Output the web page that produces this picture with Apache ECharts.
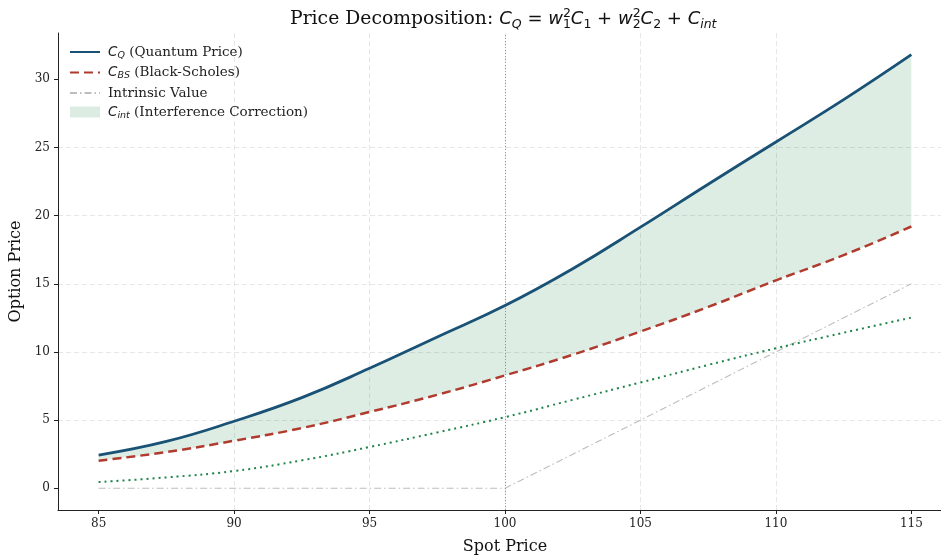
<!DOCTYPE html>
<html>
<head>
<meta charset="utf-8">
<script src="https://cdn.jsdelivr.net/npm/echarts@6/dist/echarts.min.js"></script>
<style>
html,body{margin:0;padding:0;background:#fff;}
#chart{width:941px;height:556px;}
</style>
</head>
<body>
<div id="chart"></div>
<script>
// spot prices and prices
var spot = [85, 87.5, 90, 92.5, 95, 97.5, 100, 102.5, 105, 107.5, 110, 112.5, 115];
var quantumPrice = [2.44, 3.44, 4.92, 6.65, 8.8, 11.1, 13.4, 16.1, 19.15, 22.3, 25.4, 28.5, 31.8];
var bsPrice = [2.03, 2.66, 3.49, 4.42, 5.6, 6.86, 8.28, 9.8, 11.5, 13.3, 15.25, 17.1, 19.2];
var weightedPart = [0.46, 0.8, 1.27, 2.05, 3.03, 4.1, 5.22, 6.49, 7.76, 9.05, 10.27, 11.41, 12.52];
var intrinsic = [0, 0, 0, 0, 0, 0, 0, 2.5, 5, 7.5, 10, 12.5, 15];
var strike = 100;
var xTicks = [85, 90, 95, 100, 105, 110, 115];
var yTicks = [0, 5, 10, 15, 20, 25, 30];

function pairs(ys){
	var out = [];
	for (var i = 0; i < spot.length; i++) out.push([spot[i], ys[i]]);
	return out;
}
// y first so that the stack goes on the price dimension
function pairsYX(ys){
	var out = [];
	for (var i = 0; i < spot.length; i++) out.push([ys[i], spot[i]]);
	return out;
}
var band = [];
for (var i = 0; i < spot.length; i++) band.push(+(quantumPrice[i] - bsPrice[i]).toFixed(3));

var chart = echarts.init(document.getElementById("chart"));

var serif = 'DejaVu Serif';
var math = 'DejaVu Sans';
var lh = 24;
var sm = 0.45;

var titleRich = {
	t: {fontFamily: serif, fontWeight: 'normal', fontSize: 18.8, color: '#111', lineHeight: lh},
	m: {fontFamily: math, fontWeight: 'normal', fontStyle: 'italic', fontSize: 18, color: '#111', lineHeight: lh},
	o: {fontFamily: math, fontWeight: 'normal', fontSize: 18, color: '#111', lineHeight: lh},
	s: {fontFamily: math, fontWeight: 'normal', fontStyle: 'italic', fontSize: 12.5, color: '#111', lineHeight: 13, verticalAlign: 'bottom'},
	sn: {fontFamily: math, fontWeight: 'normal', fontSize: 12.5, color: '#111', lineHeight: 13, verticalAlign: 'bottom'},
	p: {fontFamily: math, fontWeight: 'normal', fontSize: 12.5, color: '#111', lineHeight: 13, verticalAlign: 'top', width: 0}
};

var legendNames = {
	'CQ': '{g| }{m|C}{s|Q}{t| (Quantum Price)}',
	'CBS': '{g| }{m|C}{s|BS}{t| (Black-Scholes)}',
	'Intrinsic Value': '{g| }{t|Intrinsic Value}',
	'Cint': '{g| }{m|C}{s|int}{t| (Interference Correction)}'
};
var noDot = {opacity: 0};

option = {
	backgroundColor: '#fff',
	animation: false,
	title: {
		text: '{t|Price Decomposition: }{m|C}{s|Q}{o| = }{m|w}{p|2}{sn|1}{m|C}{sn|1}{o| + }{m|w}{p|2}{sn|2}{m|C}{sn|2}{o| + }{m|C}{s|int}',
		left: 285,
		top: 2,
		textStyle: {fontWeight: 'normal', rich: titleRich}
	},
	legend: {
		orient: 'vertical',
		left: 64,
		top: 40,
		itemWidth: 30,
		itemHeight: 11,
		itemGap: 5,
		data: [
			{name: 'CQ', itemStyle: noDot},
			{name: 'CBS', itemStyle: noDot},
			{name: 'Intrinsic Value', itemStyle: noDot},
			{name: 'Cint', icon: 'rect'}
		],
		formatter: function(name){ return legendNames[name]; },
		textStyle: {
			rich: {
				g: {fontSize: 4, width: 3, lineHeight: 17},
				t: {fontFamily: serif, fontSize: 13.5, color: '#222', lineHeight: 17},
				m: {fontFamily: math, fontStyle: 'italic', fontSize: 13.5, color: '#222', lineHeight: 17},
				s: {fontFamily: math, fontStyle: 'italic', fontSize: 9.5, color: '#222', lineHeight: 9, verticalAlign: 'bottom'}
			}
		}
	},
	grid: {left: 58, width: 894, top: 33, height: 477, outerBoundsMode: 'none', containLabel: false},
	xAxis: {
		type: 'value',
		min: 83.5,
		max: 116.5,
		splitNumber: 6,
		name: 'Spot Price',
		nameLocation: 'middle',
		nameGap: 29,
		nameTextStyle: {fontFamily: serif, fontSize: 16, color: '#111'},
		axisLine: {show: true, onZero: false, lineStyle: {color: '#222', width: 1}},
		axisTick: {show: true, length: 4, customValues: xTicks, lineStyle: {color: '#222'}},
		axisLabel: {fontFamily: serif, fontSize: 12, color: '#222', margin: 8, customValues: xTicks},
		splitLine: {show: true, showMinLine: false, showMaxLine: false, lineStyle: {color: '#e0e0e0', type: [5, 3], width: 0.8}}
	},
	yAxis: {
		type: 'value',
		min: -1.59,
		max: 33.39,
		splitNumber: 7,
		name: 'Option Price',
		nameLocation: 'middle',
		nameGap: 28,
		nameTextStyle: {fontFamily: serif, fontSize: 16, color: '#111'},
		axisLine: {show: true, onZero: false, lineStyle: {color: '#222', width: 1}},
		axisTick: {show: true, length: 4, customValues: yTicks, lineStyle: {color: '#222'}},
		axisLabel: {fontFamily: serif, fontSize: 12, color: '#222', margin: 8, customValues: yTicks},
		splitLine: {show: true, showMinLine: false, showMaxLine: false, lineStyle: {color: '#e0e0e0', type: [5, 3], width: 0.8}}
	},
	series: [
		{
			name: '_base',
			type: 'line',
			stack: 'band',
			data: pairsYX(bsPrice),
			encode: {x: 1, y: 0},
			smooth: sm,
			symbol: 'none',
			silent: true,
			lineStyle: {width: 0, opacity: 0},
			z: 1
		},
		{
			name: 'Cint',
			type: 'line',
			stack: 'band',
			data: pairsYX(band),
			encode: {x: 1, y: 0},
			smooth: sm,
			symbol: 'none',
			silent: true,
			itemStyle: {color: '#dcece2'},
			lineStyle: {width: 0, opacity: 0},
			areaStyle: {color: '#1e8449', opacity: 0.15},
			z: 1
		},
		{
			name: 'Intrinsic Value',
			type: 'line',
			data: pairs(intrinsic),
			symbol: 'none',
			itemStyle: {color: '#bdbdbd'},
			lineStyle: {color: '#bdbdbd', width: 1.1, type: [7, 3, 1.5, 3]},
			markLine: {
				silent: true,
				symbol: 'none',
				label: {show: false},
				lineStyle: {color: '#808080', width: 0.8, type: [1, 2]},
				data: [{xAxis: strike}]
			},
			z: 2
		},
		{
			name: 'weighted',
			type: 'line',
			data: pairs(weightedPart),
			smooth: sm,
			symbol: 'none',
			lineStyle: {color: '#1e8449', width: 2, type: [2, 4]},
			z: 3
		},
		{
			name: 'CBS',
			type: 'line',
			data: pairs(bsPrice),
			smooth: sm,
			symbol: 'none',
			itemStyle: {color: '#b03a2e'},
			lineStyle: {color: '#b03a2e', width: 2.5, type: [9, 5]},
			z: 4
		},
		{
			name: 'CQ',
			type: 'line',
			data: pairs(quantumPrice),
			smooth: sm,
			symbol: 'none',
			itemStyle: {color: '#1a5276'},
			lineStyle: {color: '#1a5276', width: 2.8},
			z: 5
		}
	]
};

chart.setOption(option);
</script>
</body>
</html>
